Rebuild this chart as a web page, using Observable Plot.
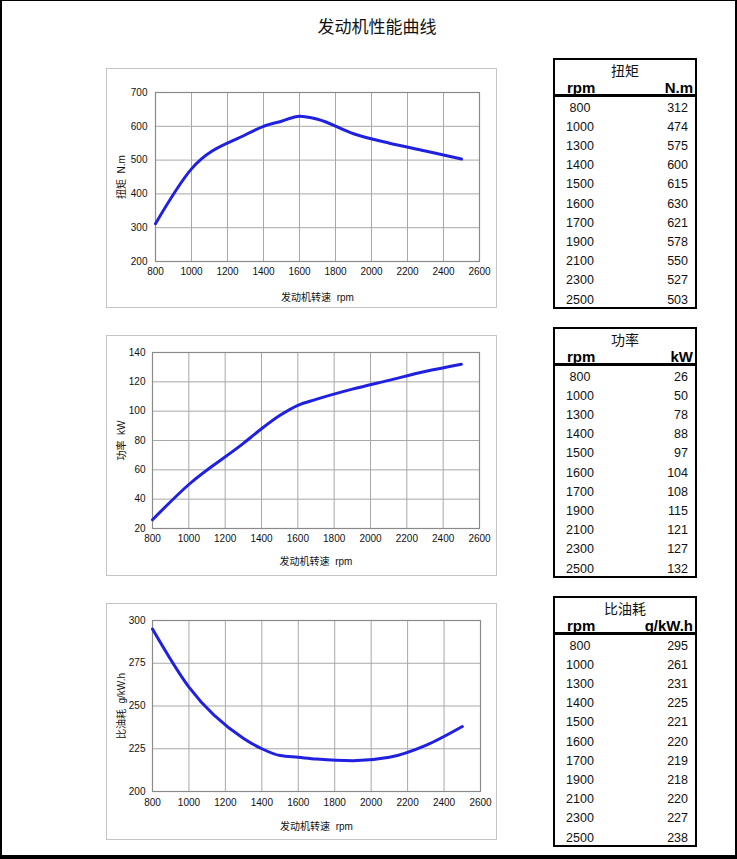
<!DOCTYPE html>
<html>
<head>
<meta charset="utf-8">
<script src="https://cdn.jsdelivr.net/npm/d3@7"></script>
<script src="https://cdn.jsdelivr.net/npm/@observablehq/plot@0.6"></script>
<style>
  html, body { margin: 0; padding: 0; background: #fff; }
  #page { position: relative; width: 737px; height: 859px; box-sizing: border-box;
          border-top: 1px solid #000; border-left: 2px solid #000; border-right: 2px solid #000; border-bottom: 4px solid #000;
          font-family: "Liberation Sans", Arial, "Noto Sans CJK SC", sans-serif; overflow: hidden; }
  .abs { position: absolute; }
  #title { left: 0; width: 750px; top: 13px; text-align: center; font-size: 17px; line-height: 24px;
           font-family: "Noto Sans CJK SC", sans-serif; color: #111; }
  .chart { position: absolute; }
  .chart svg { border: 1px solid #c4c4c4; display: block; }
  .tbl { position: absolute; width: 144px; height: 251px; box-sizing: border-box; border: 2px solid #000; background: #fff; }
  .tbl .tt { position: absolute; left: 0; right: 0; top: 0; height: 20px; line-height: 20px; text-align: center;
             font-size: 14px; font-family: "Noto Sans CJK SC", sans-serif; color: #111; }
  .tbl .hd { position: absolute; left: 0; right: 0; top: 19px; height: 18px; line-height: 18px; font-weight: bold; font-size: 15px; color: #000; }
  .tbl .hd .l { position: absolute; left: 12px; }
  .tbl .hd .r { position: absolute; right: 2px; }
  .tbl .bar { position: absolute; left: 0; right: 0; top: 34px; height: 3px; background: #000; }
  .tbl .row { position: absolute; left: 0; right: 0; height: 19px; line-height: 19px; font-size: 12.5px; color: #111; }
  .tbl .row .l { position: absolute; left: 0; width: 50px; text-align: center; }
  .tbl .row .r { position: absolute; right: 7px; }
</style>
</head>
<body>
<div id="page">
  <div id="title" class="abs">发动机性能曲线</div>
</div>
<script>
// ---- data ----
const rpm = [800, 1000, 1300, 1400, 1500, 1600, 1700, 1900, 2100, 2300, 2500];
const torque = [312, 474, 575, 600, 615, 630, 621, 578, 550, 527, 503];
const power = [26, 50, 78, 88, 97, 104, 108, 115, 121, 127, 132];
const sfc = [295, 261, 231, 225, 221, 220, 219, 218, 220, 227, 238];

const xTicks = [800, 1000, 1200, 1400, 1600, 1800, 2000, 2200, 2400, 2600];
const torqueTicks = [200, 300, 400, 500, 600, 700];
const powerTicks = [20, 40, 60, 80, 100, 120, 140];
const sfcTicks = [200, 225, 250, 275, 300];

const xLabel = "发动机转速  rpm";
const charts = [
  { name: "扭矩", unit: "N.m", values: torque, yDomain: [200, 700], yTicks: torqueTicks, yLabel: "扭矩  N.m",
    box: { left: 107, top: 69, w: 389, h: 238 }, m: { l: 48, r: 17, t: 23, b: 46 },
    tbl: 58, ypad: 8, xpad: 6, ylo: 38, xlo: 39 },
  { name: "功率", unit: "kW", values: power, yDomain: [20, 140], yTicks: powerTicks, yLabel: "功率  kW",
    box: { left: 107, top: 336, w: 389, h: 239 }, m: { l: 45, r: 17, t: 16, b: 47 },
    tbl: 327, ypad: 7, xpad: 6.5, ylo: 35, xlo: 36 },
  { name: "比油耗", unit: "g/kW.h", values: sfc, yDomain: [200, 300], yTicks: sfcTicks, yLabel: "比油耗  g/kW.h",
    box: { left: 107, top: 604, w: 389, h: 235 }, m: { l: 45, r: 16, t: 16, b: 48 },
    tbl: 596, ypad: 7, xpad: 7, ylo: 35, xlo: 38 }
];

const page = document.getElementById("page");
const lineColor = "#2020e0";
const fmt = d => String(d);

charts.forEach(c => {
  const data = rpm.map((r, i) => ({ rpm: r, v: c.values[i] }));
  const svg = Plot.plot({
    width: c.box.w,
    height: c.box.h,
    marginLeft: c.m.l, marginRight: c.m.r, marginTop: c.m.t, marginBottom: c.m.b,
    style: { fontFamily: "'Liberation Sans', Arial, 'Noto Sans CJK SC', sans-serif", fontSize: "10px", background: "#fff", color: "#111" },
    x: { domain: [800, 2600] },
    y: { domain: c.yDomain },
    marks: [
      Plot.gridX(xTicks, { stroke: "#a8a8a8", strokeOpacity: 1 }),
      Plot.gridY(c.yTicks, { stroke: "#a8a8a8", strokeOpacity: 1 }),
      Plot.frame({ stroke: "#8a8a8a", strokeWidth: 1.2 }),
      Plot.axisX(xTicks, { tickSize: 0, tickPadding: c.xpad, tickFormat: fmt, label: xLabel, labelAnchor: "center", labelOffset: c.xlo, labelArrow: false, fontSize: 10 }),
      Plot.axisY(c.yTicks, { tickSize: 0, tickPadding: c.ypad, tickFormat: fmt, label: c.yLabel, labelAnchor: "center", labelOffset: c.ylo, labelArrow: false, fontSize: 10 }),
      Plot.line(data, { x: "rpm", y: "v", stroke: lineColor, strokeWidth: 3, curve: "monotone-x" })
    ]
  });
  const wrap = document.createElement("div");
  wrap.className = "chart";
  wrap.style.left = (c.box.left - 1 - 2) + "px";
  wrap.style.top = (c.box.top - 1 - 1) + "px";
  wrap.appendChild(svg);
  page.appendChild(wrap);

  const t = document.createElement("div");
  t.className = "tbl";
  t.style.left = (553 - 2) + "px";
  t.style.top = (c.tbl - 1) + "px";
  let html = `<div class="tt">${c.name}</div><div class="hd"><span class="l">rpm</span><span class="r">${c.unit}</span></div><div class="bar"></div>`;
  rpm.forEach((r, i) => {
    const top = 50 - 2 - 9.5 + i * 19.2;
    html += `<div class="row" style="top:${top}px"><span class="l">${r}</span><span class="r">${c.values[i]}</span></div>`;
  });
  t.innerHTML = html;
  page.appendChild(t);
});
</script>
</body>
</html>
